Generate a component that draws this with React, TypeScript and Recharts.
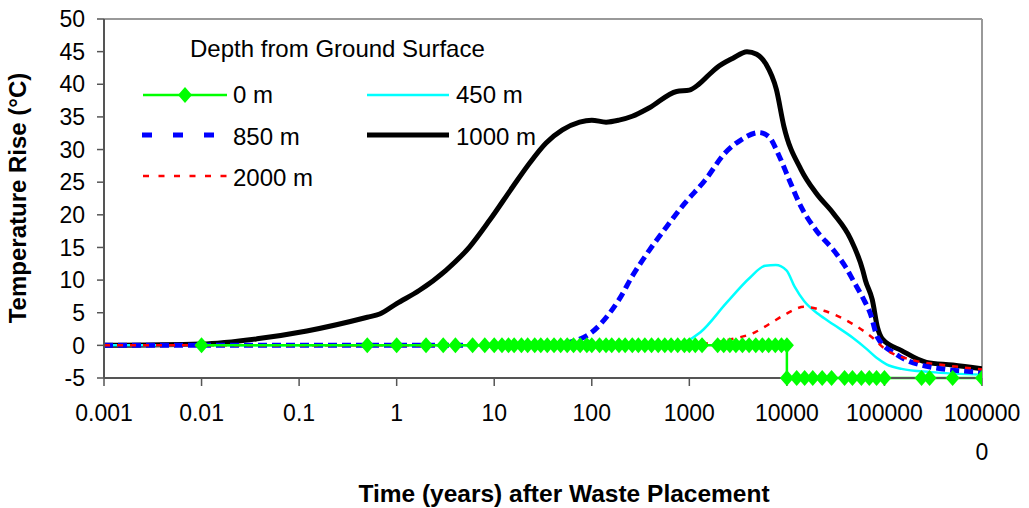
import React from 'react';
import { LineChart, Line, XAxis, YAxis, ReferenceLine, Legend } from 'recharts';

const FONT = '"Liberation Sans", Arial, Helvetica, sans-serif';

// Axis ticks
const xTicks = [0.001, 0.01, 0.1, 1, 10, 100, 1000, 10000, 100000, 1000000];
const xTickLabels = ['0.001', '0.01', '0.1', '1', '10', '100', '1000', '10000', '100000', '1000000'];
const yTicks = [-5, 0, 5, 10, 15, 20, 25, 30, 35, 40, 45, 50];

// Series names / legend
const legendTitle = 'Depth from Ground Surface';
const seriesNames = ['0 m', '450 m', '850 m', '1000 m', '2000 m'];

// 0 m (ground surface)
const time0m = [
  0.01, 0.5, 1, 2, 3, 4, 6, 8, 10, 12, 14, 16, 19, 22, 26, 30, 35, 41, 48, 56, 65, 76, 89, 100,
  120, 140, 160, 190, 220, 260, 300, 350, 410, 480, 560, 650, 760, 890, 1000, 1150, 1350,
  1950, 2250, 2600, 3000, 3500, 4100, 4800, 5600, 6500, 7600, 8800, 10000,
  10000, 12600, 15200, 18400, 23000, 28700, 39000, 47000, 58000, 70000, 83000, 100000,
  240000, 290000, 500000, 1000000,
];
const temp0m = [
  0, 0, 0, 0, 0, 0, 0, 0, 0, 0, 0, 0, 0, 0, 0, 0, 0, 0, 0, 0, 0, 0, 0, 0,
  0, 0, 0, 0, 0, 0, 0, 0, 0, 0, 0, 0, 0, 0, 0, 0, 0,
  0, 0, 0, 0, 0, 0, 0, 0, 0, 0, 0, 0,
  -5, -5, -5, -5, -5, -5, -5, -5, -5, -5, -5, -5,
  -5, -5, -5, -5,
];

// 450 m
const time450m = [0.001, 1, 100, 700, 900, 1300, 2400, 4200, 6000, 7700, 9900, 12000, 15000, 21000, 30000, 47000, 65000, 83000, 105000, 150000, 300000, 1000000];
const temp450m = [0, 0, 0, 0, 0.5, 2, 6.5, 10.4, 12.2, 12.3, 11.5, 9, 6.8, 4.8, 3.2, 1.2, -0.5, -1.9, -2.9, -3.6, -4.1, -4.5];

// 850 m
const time850m = [0.001, 0.01, 1, 10, 40, 60, 100, 150, 190, 260, 390, 580, 900, 1450, 2300, 3400, 5200, 6500, 8400, 10600, 14000, 20000, 30000, 40000, 48000, 60000, 72000, 85000, 130000, 270000, 1000000];
const temp850m = [0, 0, 0, 0, 0.05, 0.5, 2.0, 4.8, 7.0, 10.6, 14.6, 18.1, 21.8, 25.3, 29.4, 31.5, 32.6, 32, 28.9, 25.3, 21.2, 17.6, 14.6, 12, 9.9, 7.3, 4.8, 1.2, -1.3, -3.2, -4.1];

// 1000 m
const time1000m = [0.001, 0.01, 0.037, 0.12, 0.5, 0.67, 1, 1.7, 3.2, 5.6, 9, 15.5, 23, 34, 50, 75, 100, 140, 190, 260, 390, 740, 1000, 1250, 1600, 1900, 2800, 3900, 4900, 6100, 7800, 9300, 14000, 20000, 30000, 45000, 60000, 64000, 75000, 85000, 95000, 150000, 270000, 500000, 1000000];
const temp1000m = [0, 0.2, 1, 2.2, 4.3, 4.8, 6.4, 8.4, 11.5, 15.1, 19.2, 24.3, 27.9, 31, 33, 34.2, 34.5, 34.2, 34.5, 35.1, 36.4, 38.9, 39.1, 40.0, 41.5, 42.5, 44.0, 45, 44.6, 43.1, 39.2, 33.6, 26.9, 23.3, 20.2, 16.3, 11.5, 9.9, 7, 2.7, 1, -0.8, -2.6, -3.0, -3.6];

// 2000 m
const time2000m = [0.001, 1, 100, 1000, 1500, 2400, 4700, 7000, 9500, 15000, 24000, 47000, 75000, 100000, 200000, 400000, 1000000];
const temp2000m = [0, 0, 0, 0, 0.3, 0.8, 2.0, 3.5, 4.7, 5.9, 5.3, 3.3, 1.2, -0.5, -2.3, -3.0, -3.7];

const zip = (t: number[], v: number[]) => t.map((x, i) => ({ x, y: v[i] }));
const data0m = zip(time0m, temp0m);
const data450m = zip(time450m, temp450m);
const data850m = zip(time850m, temp850m);
const data1000m = zip(time1000m, temp1000m);
const data2000m = zip(time2000m, temp2000m);

const GREEN = '#00FF00';
const CYAN = '#00FFFF';
const BLUE = '#0000FF';
const BLACK = '#000000';
const RED = '#FF0000';
const AXIS = '#555555';
const BORDER = '#999999';

const Diamond = (props: any) => {
  const { cx, cy, index } = props;
  if (cx == null || cy == null) return <g key={`d-${index}`} />;
  return (
    <path
      key={`d-${index}`}
      d={`M${cx},${cy - 8}L${cx + 7},${cy}L${cx},${cy + 8}L${cx - 7},${cy}Z`}
      fill={GREEN}
      stroke="none"
    />
  );
};

const XTick = (props: any) => {
  const { x, y, index } = props;
  const label = xTickLabels[index] ?? String(props.payload?.value);
  const lines = label.length > 6 ? [label.slice(0, 6), label.slice(6)] : [label];
  return (
    <g>
      {lines.map((l, i) => (
        <text
          key={i}
          x={x}
          y={y + 33 + i * 39}
          textAnchor="middle"
          fontFamily={FONT}
          fontSize={23}
          fill="#000"
        >
          {l}
        </text>
      ))}
    </g>
  );
};

const LegendBox = () => {
  const fs = 24;
  return (
    <svg width={620} height={210} style={{ display: 'block', overflow: 'visible' }}>
      <text x={190} y={57} fontFamily={FONT} fontSize={fs} fill="#000">{legendTitle}</text>
      {/* 0 m */}
      <line x1={143} y1={95} x2={227} y2={95} stroke={GREEN} strokeWidth={2.5} />
      <path d="M185,87L192,95L185,103L178,95Z" fill={GREEN} />
      <text x={233} y={103} fontFamily={FONT} fontSize={fs} fill="#000">{seriesNames[0]}</text>
      {/* 450 m */}
      <line x1={367} y1={95} x2={449} y2={95} stroke={CYAN} strokeWidth={2.5} />
      <text x={456} y={103} fontFamily={FONT} fontSize={fs} fill="#000">{seriesNames[1]}</text>
      {/* 850 m */}
      <line x1={142} y1={135} x2={215} y2={135} stroke={BLUE} strokeWidth={5} strokeDasharray="10 21" />
      <text x={233} y={145} fontFamily={FONT} fontSize={fs} fill="#000">{seriesNames[2]}</text>
      {/* 1000 m */}
      <line x1={367} y1={135} x2={449} y2={135} stroke={BLACK} strokeWidth={5} />
      <text x={456} y={145} fontFamily={FONT} fontSize={fs} fill="#000">{seriesNames[3]}</text>
      {/* 2000 m */}
      <line x1={143} y1={176} x2={227} y2={176} stroke={RED} strokeWidth={2.5} strokeDasharray="6 9.5" />
      <text x={233} y={186} fontFamily={FONT} fontSize={fs} fill="#000">{seriesNames[4]}</text>
    </svg>
  );
};

export default function App() {
  return (
    <div style={{ position: 'absolute', left: 0, top: 0, width: 1029, height: 508, background: '#fff' }}>
      <LineChart width={1029} height={508} margin={{ top: 19, right: 47, left: 0, bottom: 0 }}>
        <XAxis
          dataKey="x"
          type="number"
          scale="log"
          domain={[0.001, 1000000]}
          ticks={xTicks}
          interval={0}
          allowDataOverflow
          height={130}
          tickSize={8}
          axisLine={{ stroke: AXIS, strokeWidth: 2 }}
          tickLine={{ stroke: AXIS, strokeWidth: 1.5 }}
          tick={<XTick />}
          label={{
            content: () => (
              <text x={564} y={502} textAnchor="middle" fontFamily={FONT} fontSize={24.5} fontWeight="bold" fill="#000">
                Time (years) after Waste Placement
              </text>
            ),
          }}
        />
        <YAxis
          type="number"
          domain={[-5, 50]}
          ticks={yTicks}
          interval={0}
          width={104}
          tickSize={7}
          tickMargin={12}
          axisLine={{ stroke: AXIS, strokeWidth: 2 }}
          tickLine={{ stroke: AXIS, strokeWidth: 1.5 }}
          tick={{ fill: '#000', fontSize: 23, fontFamily: FONT }}
          label={{
            content: () => (
              <text
                x={0}
                y={0}
                transform="translate(26,198) rotate(-90)"
                textAnchor="middle"
                fontFamily={FONT}
                fontSize={24}
                fontWeight="bold"
                fill="#000"
              >
                Temperature Rise (°C)
              </text>
            ),
          }}
        />
        <ReferenceLine y={50} stroke={BORDER} strokeWidth={2} />
        <ReferenceLine x={1000000} stroke={BORDER} strokeWidth={2} />
        <Legend
          layout="vertical"
          align="center"
          verticalAlign="middle"
          wrapperStyle={{ left: 0, top: 0, width: 620, height: 210 }}
          content={() => <LegendBox />}
        />
        <Line data={data1000m} dataKey="y" type="monotone" stroke={BLACK} strokeWidth={5} dot={false} isAnimationActive={false} />
        <Line data={data450m} dataKey="y" type="monotone" stroke={CYAN} strokeWidth={2.5} dot={false} isAnimationActive={false} />
        <Line data={data850m} dataKey="y" type="monotone" stroke={BLUE} strokeWidth={5} strokeDasharray="9 5" dot={false} isAnimationActive={false} />
        <Line data={data2000m} dataKey="y" type="monotone" stroke={RED} strokeWidth={2.5} strokeDasharray="6 7" dot={false} isAnimationActive={false} />
        <Line data={data0m} dataKey="y" type="linear" stroke={GREEN} strokeWidth={2.5} dot={<Diamond />} isAnimationActive={false} />
      </LineChart>
    </div>
  );
}
